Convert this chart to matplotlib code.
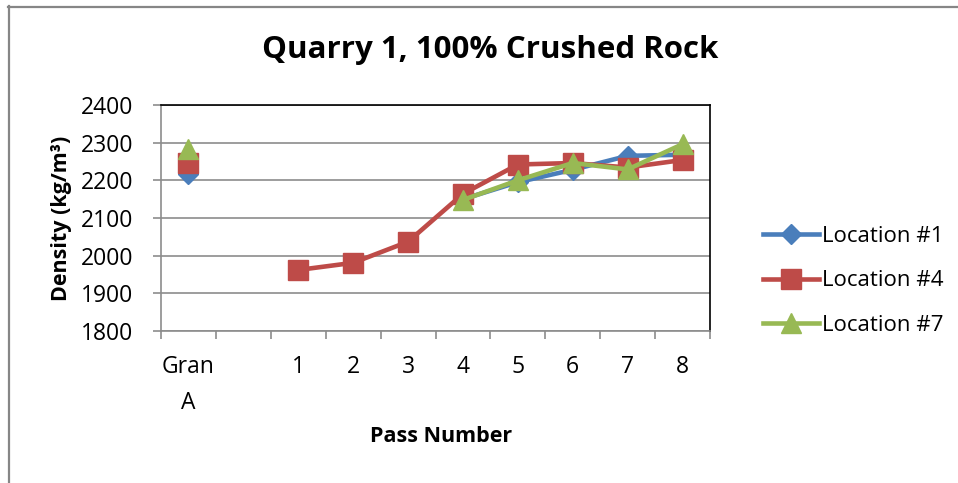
import numpy as np
import matplotlib
matplotlib.use("Agg")
import matplotlib.pyplot as plt
from matplotlib.lines import Line2D

categories = ["Gran\nA", "", "1", "2", "3", "4", "5", "6", "7", "8"]
nan = np.nan
loc1 = [2217, nan, nan, nan, nan, 2150, 2195, 2228, 2265, 2268]
loc4 = [2245, nan, 1962, 1981, 2037, 2164, 2242, 2246, 2234, 2254]
loc7 = [2283, nan, nan, nan, nan, 2148, 2200, 2246, 2229, 2296]
series_names = ["Location #1", "Location #4", "Location #7"]
yticks = [1800, 1900, 2000, 2100, 2200, 2300, 2400]

plt.rcParams['font.family'] = ['Open Sans', 'DejaVu Sans']

W, H = 958, 483
fig = plt.figure(figsize=(W / 100, H / 100), dpi=100)
# outer chart border (only left and top visible in the reference)
fig.add_artist(Line2D([8.5 / W, 8.5 / W], [0, 1 - 6 / H], transform=fig.transFigure,
                      color="#868686", linewidth=1.6))
fig.add_artist(Line2D([8 / W, 1], [1 - 6.5 / H, 1 - 6.5 / H], transform=fig.transFigure,
                      color="#868686", linewidth=1.6))

ax = fig.add_axes([161 / W, 1 - 331 / H, (710 - 161) / W, (331 - 105) / H])

x = np.arange(len(categories)) + 0.5
colors = ["#4A7EBB", "#BE4B48", "#98B954"]
markers = ["D", "s", "^"]
msizes = [10.5, 14, 14.5]
for vals, name, c, m, ms in zip([loc1, loc4, loc7], series_names, colors, markers, msizes):
    ax.plot(x, vals, color=c, marker=m, markersize=ms, linewidth=3.3, label=name,
            markeredgecolor=c, zorder=3)

ax.set_xlim(0, len(categories))
ax.set_ylim(1800, 2400)
ax.set_yticks(yticks)
ax.set_yticklabels([str(v) for v in yticks], fontsize=16.5)
ax.yaxis.grid(True, color="#8c8c8c", linewidth=1.2)
ax.set_axisbelow(True)

ax.set_xticks(x)
ax.set_xticklabels(categories, fontsize=16.5, va="top", linespacing=1.7)
ax.tick_params(axis='x', which='major', length=0, pad=17)
ax.set_xticks(np.arange(len(categories) + 1), minor=True)
ax.tick_params(axis='x', which='minor', length=6, color="#8c8c8c", width=1.2)
ax.tick_params(axis='y', length=6, color="#8c8c8c", width=1.2, pad=14)

for s in ["left", "bottom"]:
    ax.spines[s].set_color("#8c8c8c")
    ax.spines[s].set_linewidth(1.2)
for s in ["top", "right"]:
    ax.spines[s].set_color("#000000")
    ax.spines[s].set_linewidth(1.2)

fig.text(62 / W, 1 - 218 / H, "Density (kg/m³)", rotation=90, ha="center", va="center",
         fontsize=15.5, fontweight="bold")
fig.text(441 / W, 1 - 437 / H, "Pass Number", ha="center", va="center",
         fontsize=15.5, fontweight="bold")

fig.text(490 / W, 1 - 50 / H, "Quarry 1, 100% Crushed Rock", ha="center", va="center",
         fontsize=22.5, fontweight="bold")

handles, labels = ax.get_legend_handles_labels()
leg = fig.legend(handles, labels, loc="center left", bbox_to_anchor=(752 / W, 1 - 281 / H),
                 frameon=False, fontsize=16, handlelength=2.5, handletextpad=0.15,
                 labelspacing=1.05, borderpad=0)

fig.savefig("out.png", dpi=100)
